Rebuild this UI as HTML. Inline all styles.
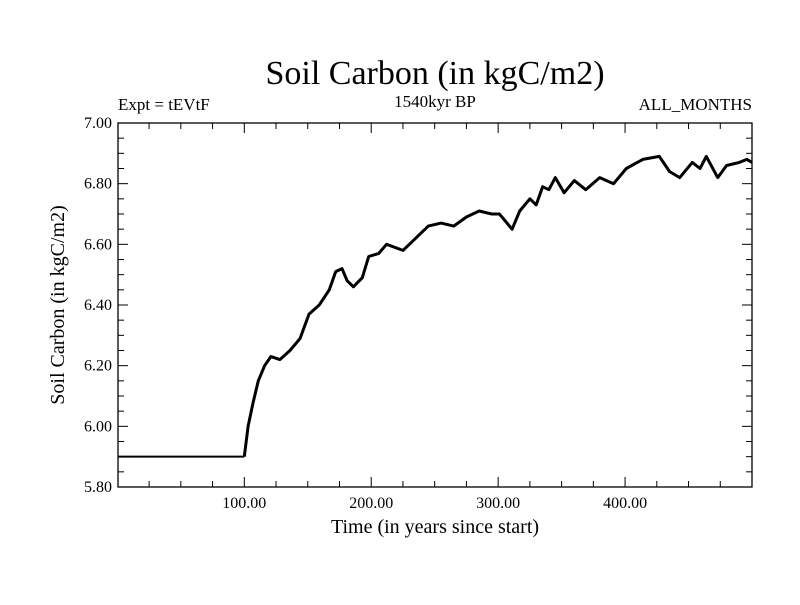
<!DOCTYPE html>
<html><head><meta charset="utf-8"><style>
body{margin:0;background:#fff;}
svg text{font-family:"Liberation Serif",serif;fill:#000;}
</style></head><body>
<svg id="chart" width="800" height="600" xmlns="http://www.w3.org/2000/svg">
<text x="435" y="84" font-size="34" text-anchor="middle">Soil Carbon (in kgC/m2)</text>
<text x="435" y="107" font-size="17" text-anchor="middle">1540kyr BP</text>
<text x="118" y="110" font-size="17">Expt = tEVtF</text>
<text x="752" y="110" font-size="17" text-anchor="end">ALL_MONTHS</text>
<text transform="translate(64,305) rotate(-90)" font-size="20" text-anchor="middle">Soil Carbon (in kgC/m2)</text>
<text x="435" y="533" font-size="20" text-anchor="middle">Time (in years since start)</text>
<g id="axes"></g>
<g id="series"></g>
</svg>
<script>
const xTicks=[100,200,300,400];
const xTickLabels=["100.00","200.00","300.00","400.00"];
const yTicks=[5.8,6.0,6.2,6.4,6.6,6.8,7.0];
const yTickLabels=["5.80","6.00","6.20","6.40","6.60","6.80","7.00"];
const years=[1,100,103,107,111,116,121,128,136,144,151,159,167,172,177,181,186,193,198,206,212,225,235,245,255,265,275,285,295,301,305,311,317,325,330,335,340,345,352,360,369,380,391,401,414,427,435,443,453,459,464,473,480,490,496,500];
const carbon=[5.90,5.90,6.00,6.08,6.15,6.20,6.23,6.22,6.25,6.29,6.37,6.40,6.45,6.51,6.52,6.48,6.46,6.49,6.56,6.57,6.60,6.58,6.62,6.66,6.67,6.66,6.69,6.71,6.70,6.70,6.68,6.65,6.71,6.75,6.73,6.79,6.78,6.82,6.77,6.81,6.78,6.82,6.80,6.85,6.88,6.89,6.84,6.82,6.87,6.85,6.89,6.82,6.86,6.87,6.88,6.87];
const L=118,R=752,T=123,B=487,xMin=0.5,xMax=500,yMin=5.8,yMax=7.0;
const NS="http://www.w3.org/2000/svg";
const xs=v=>L+(v-xMin)/(xMax-xMin)*(R-L);
const ys=v=>B-(v-yMin)/(yMax-yMin)*(B-T);
const axes=document.getElementById('axes');
function mk(tag,attrs,parent){const e=document.createElementNS(NS,tag);for(const k in attrs)e.setAttribute(k,attrs[k]);parent.appendChild(e);return e;}
const frame=mk('rect',{x:L,y:T,width:R-L,height:B-T,fill:'none',stroke:'#000','stroke-width':1.3},axes);


for(let v=25;v<xMax;v+=25){const major=v%100===0;const len=major?10:6;const x=xs(v);
 const t1=mk('line',{x1:x,x2:x,y1:B,y2:B-len,stroke:'#000'},axes);
 
 
 const t2=mk('line',{x1:x,x2:x,y1:T,y2:T+len,stroke:'#000'},axes);
 
 }
xTicks.forEach((v,i)=>{const t=mk('text',{x:xs(v),y:B+21,'font-size':16,'text-anchor':'middle'},axes);t.textContent=xTickLabels[i];
 
 });
for(let k=0;k<=24;k++){const v=yMin+k*0.05;const major=k%4===0;const len=major?10:6;const y=ys(v);
 const t1=mk('line',{x1:L,x2:L+len,y1:y,y2:y,stroke:'#000'},axes);
 
 
 const t2=mk('line',{x1:R,x2:R-len,y1:y,y2:y,stroke:'#000'},axes);
 
 }
yTicks.forEach((v,i)=>{const t=mk('text',{x:L-6,y:ys(v)+5,'font-size':16,'text-anchor':'end'},axes);t.textContent=yTickLabels[i];
 
 });
const flat=mk('line',{x1:xs(years[0]),x2:xs(years[1]),y1:ys(carbon[0]),y2:ys(carbon[1]),stroke:'#000','stroke-width':2},document.getElementById('series'));


const d=years.slice(1).map((v,i)=>(i?'L':'M')+xs(v).toFixed(1)+','+ys(carbon[i+1]).toFixed(1)).join(' ');
const line=mk('path',{d:d,fill:'none',stroke:'#000','stroke-width':3,'stroke-linejoin':'round'},document.getElementById('series'));


</script>
</body></html>
